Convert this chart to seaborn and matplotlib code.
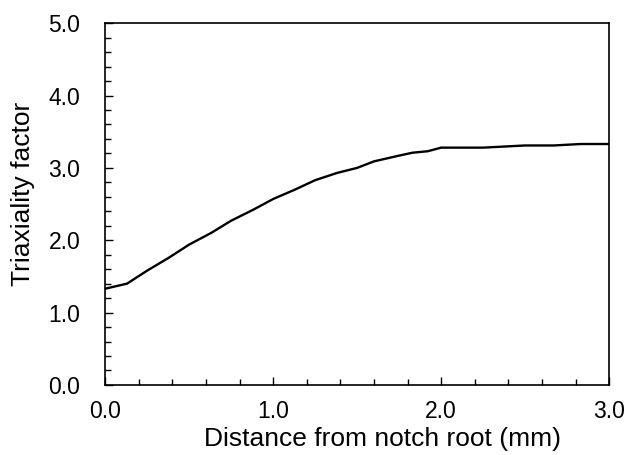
import matplotlib
matplotlib.use("Agg")
import matplotlib.pyplot as plt
import seaborn as sns
import pandas as pd
from matplotlib.ticker import MultipleLocator, FormatStrFormatter

distance = [0.0, 0.13, 0.25, 0.38, 0.5, 0.63, 0.75, 0.88, 1.0, 1.13, 1.25, 1.38,
            1.5, 1.6, 1.75, 1.83, 1.92, 2.0, 2.25, 2.5, 2.67, 2.83, 3.0]
triaxiality = [1.33, 1.40, 1.58, 1.76, 1.94, 2.10, 2.27, 2.42, 2.57, 2.70, 2.83, 2.93,
               3.00, 3.09, 3.17, 3.21, 3.23, 3.28, 3.28, 3.31, 3.31, 3.33, 3.33]

df = pd.DataFrame({"x": distance, "y": triaxiality})

sns.set_style("ticks")
plt.rcParams["font.family"] = ["Liberation Sans", "DejaVu Sans"]

fig = plt.figure(figsize=(6.26, 4.55), dpi=100)
ax = fig.add_axes([0.168, 0.154, 0.805, 0.795])
sns.lineplot(data=df, x="x", y="y", ax=ax, color="black", linewidth=1.7)

ax.set_xlim(0, 3.0)
ax.set_ylim(0, 5.0)
ax.xaxis.set_major_locator(MultipleLocator(1.0))
ax.xaxis.set_minor_locator(MultipleLocator(0.2))
ax.yaxis.set_major_locator(MultipleLocator(1.0))
ax.yaxis.set_minor_locator(MultipleLocator(0.2))
ax.xaxis.set_major_formatter(FormatStrFormatter("%.1f"))
ax.yaxis.set_major_formatter(FormatStrFormatter("%.1f"))
ax.tick_params(which="both", direction="in", top=False, right=False, color="black", width=1)
ax.tick_params(which="major", length=6, labelsize=16.5, colors="black")
ax.tick_params(which="minor", length=4)
ax.tick_params(axis="x", which="major", pad=11)
ax.tick_params(axis="y", which="major", pad=18)
for s in ax.spines.values():
    s.set_visible(True)
    s.set_color("black")
    s.set_linewidth(1.2)

ax.set_xlabel("Distance from notch root (mm)", fontsize=19, color="black")
ax.set_ylabel("Triaxiality factor", fontsize=19, color="black")
ax.xaxis.label.set_va("center")
ax.xaxis.set_label_coords(0.55, -0.15)
ax.yaxis.label.set_va("center")
ax.yaxis.set_label_coords(-0.163, 0.528)

fig.savefig("out.png", dpi=100)
